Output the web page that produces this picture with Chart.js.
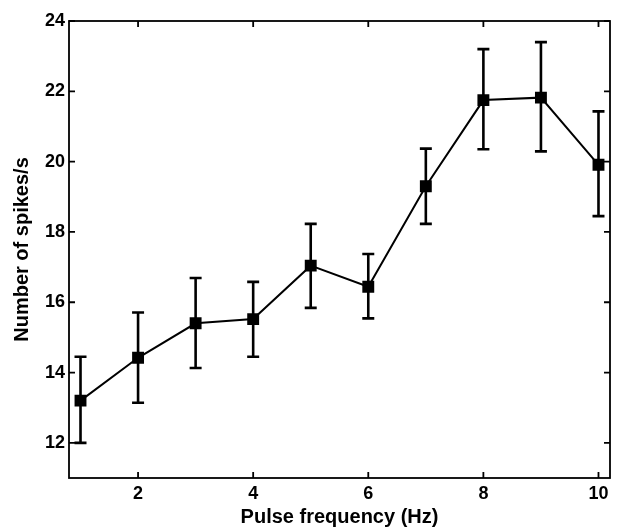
<!DOCTYPE html>
<html>
<head>
<meta charset="utf-8">
<script src="https://cdn.jsdelivr.net/npm/chart.js@4"></script>
<style>
  html, body { margin: 0; padding: 0; background: #fff; }
  #wrap { width: 619px; height: 529px; }
</style>
</head>
<body>
<div id="wrap"><canvas id="spikesChart" width="619" height="529"></canvas></div>
<script>
// values
const freqs = [1, 2, 3, 4, 5, 6, 7, 8, 9, 10];
const spikes = [13.2, 14.42, 15.4, 15.52, 17.04, 16.44, 19.3, 21.75, 21.82, 19.91];
const errLow = [12.0, 13.14, 14.13, 14.45, 15.84, 15.54, 18.23, 20.35, 20.29, 18.45];
const errHigh = [14.45, 15.71, 16.69, 16.58, 18.23, 17.37, 20.37, 23.2, 23.4, 21.43];
const xTicks = [2, 4, 6, 8, 10];
const yTicks = [12, 14, 16, 18, 20, 22, 24];

const tickFont = { family: 'Liberation Sans, Arial', size: 18, weight: 'bold' };
const titleFont = { family: 'Liberation Sans, Arial', size: 20, weight: 'bold' };

// error bars, frame and inward ticks
const extras = {
  id: 'extras',
  afterDatasetsDraw(chart) {
    const ctx = chart.ctx;
    const x = chart.scales.x, y = chart.scales.y;
    const a = chart.chartArea;
    ctx.save();
    ctx.strokeStyle = '#000';
    ctx.lineWidth = 2.6;
    freqs.forEach((f, i) => {
      const px = x.getPixelForValue(f);
      const lo = y.getPixelForValue(errLow[i]);
      const hi = y.getPixelForValue(errHigh[i]);
      ctx.beginPath();
      ctx.moveTo(px, lo); ctx.lineTo(px, hi);
      ctx.moveTo(px - 6, lo); ctx.lineTo(px + 6, lo);
      ctx.moveTo(px - 6, hi); ctx.lineTo(px + 6, hi);
      ctx.stroke();
    });
    ctx.lineWidth = 1.8;
    ctx.strokeRect(a.left, a.top, a.right - a.left, a.bottom - a.top);
    ctx.beginPath();
    xTicks.forEach(t => {
      const px = x.getPixelForValue(t);
      ctx.moveTo(px, a.bottom); ctx.lineTo(px, a.bottom - 6);
      ctx.moveTo(px, a.top); ctx.lineTo(px, a.top + 6);
    });
    yTicks.forEach(t => {
      const py = y.getPixelForValue(t);
      ctx.moveTo(a.left, py); ctx.lineTo(a.left + 6, py);
      ctx.moveTo(a.right, py); ctx.lineTo(a.right - 6, py);
    });
    ctx.stroke();
    ctx.restore();
  }
};

new Chart(document.getElementById('spikesChart'), {
  type: 'line',
  data: {
    datasets: [{
      data: freqs.map((f, i) => ({ x: f, y: spikes[i] })),
      borderColor: '#000',
      borderWidth: 2,
      backgroundColor: '#000',
      pointStyle: 'rect',
      pointRadius: 7,
      pointHoverRadius: 7,
      tension: 0
    }]
  },
  options: {
    responsive: false,
    animation: false,
    layout: { padding: { top: 21, right: 7, left: 0, bottom: 0 } },
    plugins: { legend: { display: false }, tooltip: { enabled: false } },
    scales: {
      x: {
        type: 'linear',
        min: 0.8,
        max: 10.2,
        afterBuildTicks: s => { s.ticks = xTicks.map(v => ({ value: v })); },
        afterFit: s => { s.height = 51; },
        grid: { display: false, drawTicks: false },
        border: { display: false },
        ticks: { color: '#000', font: tickFont, padding: 5 },
        title: { display: true, text: 'Pulse frequency (Hz)', color: '#000', font: titleFont, padding: { top: 0, bottom: 0 } }
      },
      y: {
        min: 11,
        max: 24,
        afterBuildTicks: s => { s.ticks = yTicks.map(v => ({ value: v })); },
        afterFit: s => { s.width = 69; },
        grid: { display: false, drawTicks: false },
        border: { display: false },
        ticks: { color: '#000', font: tickFont, padding: 4 },
        title: { display: true, text: 'Number of spikes/s', color: '#000', font: titleFont, padding: { top: 10, bottom: 4 } }
      }
    }
  },
  plugins: [extras]
});
</script>
</body>
</html>
